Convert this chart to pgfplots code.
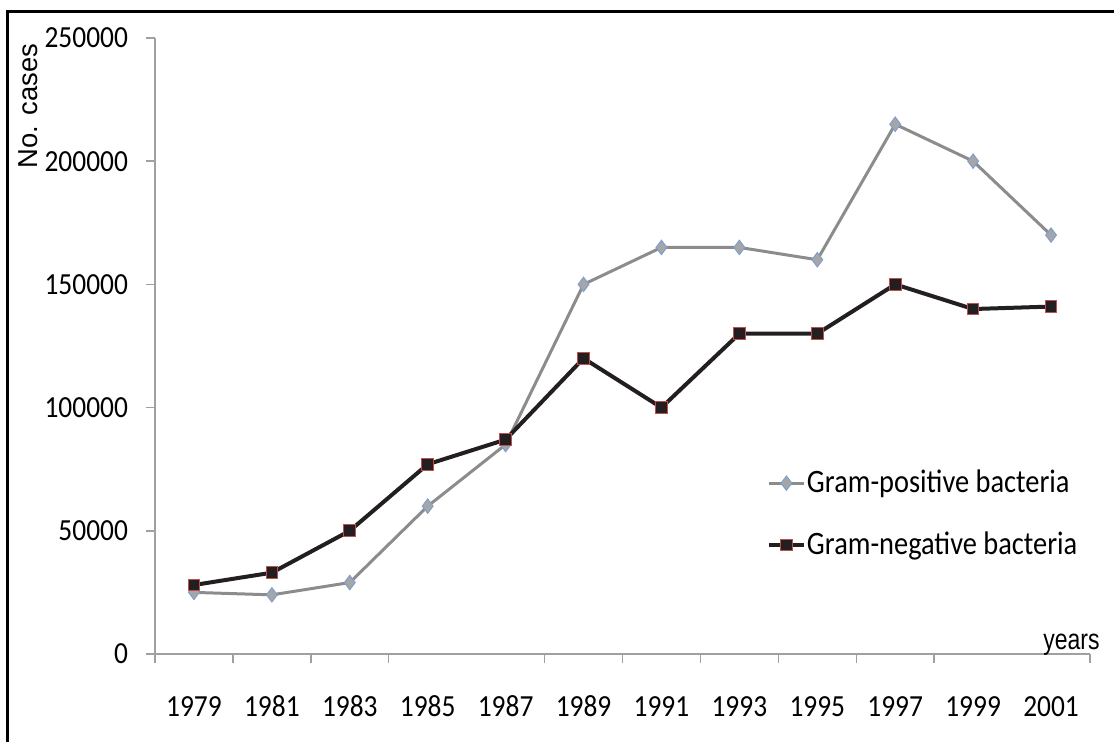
\documentclass[border=0pt]{standalone}
\usepackage{fontspec}
\setmainfont{Carlito}[Numbers={Lining,Monospaced}]
\newfontfamily\arial{Liberation Sans}
\usepackage{graphicx}
\usepackage{pgfplots}
\pgfplotsset{compat=1.18}
\definecolor{posgray}{HTML}{8C8C8C}
\definecolor{posmark}{HTML}{A6A6A6}
\definecolor{posedge}{HTML}{7F9FCF}
\definecolor{negblack}{HTML}{231F20}
\definecolor{negedge}{HTML}{C0504D}
\definecolor{axisgray}{HTML}{A0A0A0}
% the reference text is a little taller than the font
\newcommand{\tall}[1]{\scalebox{1}[1.12]{\fontsize{13.7}{16}\selectfont #1}}

\begin{document}
\begin{tikzpicture}
\useasboundingbox (-77.5pt,-44pt) rectangle (479.5pt,327pt);
\draw[line width=1.5pt] (-73.5pt,-50pt) -- (-73.5pt,321pt) -- (485pt,321pt);
\begin{axis}[
  scale only axis,
  width=467.5pt, height=308pt,
  clip=false,
  xmin=-0.5, xmax=11.5,
  ymin=0, ymax=250000,
  axis x line=bottom, axis y line=left,
  axis line style={draw=axisgray, line width=0.75pt, -},
  tick align=outside,
  major tick length=0pt,
  minor tick length=4.5pt,
  tick style={draw=axisgray, line width=0.75pt},
  xtick={0,1,2,3,4,5,6,7,8,9,10,11},
  xticklabels={\tall{1979},\tall{1981},\tall{1983},\tall{1985},\tall{1987},\tall{1989},
    \tall{1991},\tall{1993},\tall{1995},\tall{1997},\tall{1999},\tall{2001}},
  minor xtick={-0.5,0.5,1.5,2.5,4.5,5.5,6.5,7.5,8.5,9.5,11.5},
  xticklabel style={anchor=base, yshift=-31.3pt},
  scaled y ticks=false,
  ytick={0,50000,100000,150000,200000,250000},
  minor ytick={0,50000,100000,150000,200000,250000},
  yticklabels={\tall{0},\tall{50000},\tall{100000},\tall{150000},\tall{200000},\tall{250000}},
  yticklabel style={xshift=-10pt},
  legend cell align=left,
  legend style={draw=none, fill=none, inner sep=0pt,
    at={(axis description cs:0.6545,0.2273)}, anchor=west,
    font=\fontsize{14.2}{17}\selectfont, row sep=14pt,
    nodes={inner xsep=0.75pt}},
]
\addplot[color=posgray, line width=1.5pt, mark=diamond*, mark size=3.6pt,
  mark options={fill=posmark, draw=posedge, line width=0.5pt}] coordinates {
  (0,25000) (1,24000) (2,29000) (3,60000) (4,85000) (5,150000)
  (6,165000) (7,165000) (8,160000) (9,215000) (10,200000) (11,170000)
};
\addlegendentry{\scalebox{1}[1.15]{Gram-positive bacteria}}
\addplot[color=negblack, line width=2pt, mark=square*, mark size=2.9pt,
  mark options={fill=negblack, draw=negedge, line width=0.5pt}] coordinates {
  (0,28000) (1,33000) (2,50000) (3,77000) (4,87000) (5,120000)
  (6,100000) (7,130000) (8,130000) (9,150000) (10,140000) (11,141000)
};
\addlegendentry{\scalebox{1}[1.15]{Gram-negative bacteria}}
\node[rotate=90, font=\arial\fontsize{13.7}{16}\selectfont]
  at (axis description cs:-0.1358,0.8896) {No. cases};
\node[anchor=base west, inner sep=0pt, font=\arial\fontsize{11.5}{14}\selectfont]
  at (axis description cs:0.9497,0.0081) {\scalebox{1}[1.25]{years}};
\end{axis}
\end{tikzpicture}
\end{document}
